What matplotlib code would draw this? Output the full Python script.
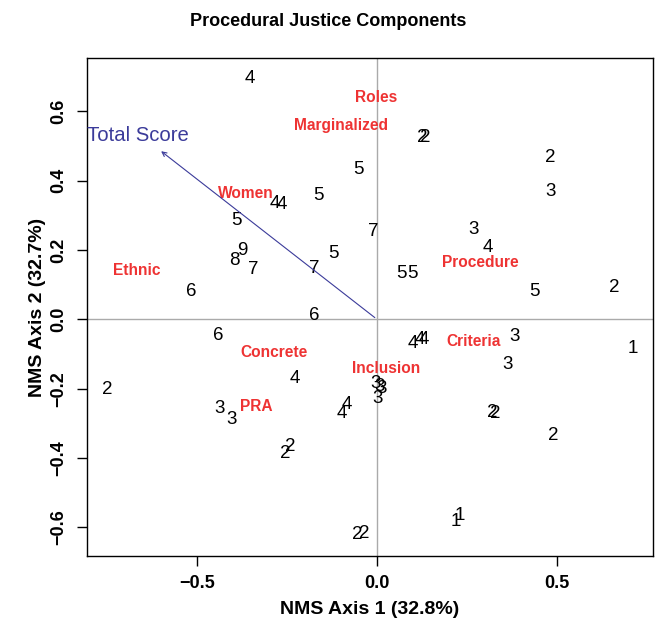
import numpy as np
import matplotlib.pyplot as plt

plt.rcParams['font.family'] = ['Liberation Sans', 'DejaVu Sans']

# site scores (label = group number)
site_lab = ['4', '4', '4', '5', '5', '7', '5', '9', '8', '7', '7', '5', '6', '6',
            '2', '2', '2', '3', '3', '4', '5', '5', '5', '2',
            '6', '4', '2', '3', '3', '4', '4', '2', '2', '2', '2',
            '4', '4', '4', '3', '1', '3', '3', '3', '3', '3', '2', '2', '2', '1', '1']
site_x = [-0.353, -0.283, -0.265, -0.163, -0.052, -0.010, -0.392, -0.373, -0.397, -0.344, -0.174, -0.121, -0.515, -0.174,
          0.126, 0.133, 0.482, 0.481, 0.268, 0.307, 0.069, 0.099, 0.437, 0.658,
          -0.441, -0.228, -0.749, -0.438, -0.404, -0.084, -0.098, -0.240, -0.254, -0.055, -0.036,
          0.099, 0.119, 0.129, 0.383, 0.710, 0.362, -0.004, 0.006, 0.013, 0.002, 0.319, 0.328, 0.490, 0.231, 0.219]
site_y = [0.696, 0.335, 0.331, 0.357, 0.433, 0.253, 0.284, 0.200, 0.171, 0.145, 0.147, 0.190, 0.080, 0.012,
          0.525, 0.525, 0.467, 0.368, 0.258, 0.207, 0.131, 0.131, 0.080, 0.092,
          -0.048, -0.170, -0.202, -0.257, -0.290, -0.247, -0.273, -0.367, -0.387, -0.622, -0.619,
          -0.069, -0.057, -0.057, -0.050, -0.084, -0.129, -0.185, -0.194, -0.199, -0.228, -0.269, -0.273, -0.334, -0.565, -0.584]

# species / component scores
comp_lab = ['Roles', 'Marginalized', 'Women', 'Ethnic', 'Procedure', 'Criteria',
            'Concrete', 'Inclusion', 'PRA']
comp_x = [-0.003, -0.100, -0.365, -0.668, 0.286, 0.268, -0.286, 0.025, -0.336]
comp_y = [0.640, 0.560, 0.363, 0.140, 0.163, -0.065, -0.096, -0.141, -0.252]

# joint plot vector
vec_x, vec_y = -0.606, 0.490
vec_lab = 'Total Score'
vec_lab_x, vec_lab_y = -0.664, 0.531

fig = plt.figure(figsize=(6.57, 6.26), dpi=100)
ax = fig.add_axes([0.1324, 0.1118, 0.8615, 0.7955])

ax.axhline(0, color='#aaaaaa', lw=1, zorder=0)
ax.axvline(0, color='#aaaaaa', lw=1, zorder=0)

for s, x, y in zip(site_lab, site_x, site_y):
    ax.text(x, y, s, ha='center', va='center', fontsize=13.5, color='black')

for s, x, y in zip(comp_lab, comp_x, comp_y):
    ax.text(x, y, s, ha='center', va='center', fontsize=11.2, fontweight='bold', color='#ee3333')

ax.annotate('', xy=(vec_x, vec_y), xytext=(0, 0),
            arrowprops=dict(arrowstyle='->', color='#3b3b9a', lw=0.8, mutation_scale=8))
ax.text(vec_lab_x, vec_lab_y, vec_lab, ha='center', va='center', fontsize=14.6, color='#3b3b9a')

ax.set_xlim(-0.806, 0.767)
ax.set_ylim(-0.683, 0.754)
ax.set_xticks([-0.5, 0.0, 0.5])
ax.set_yticks([-0.6, -0.4, -0.2, 0.0, 0.2, 0.4, 0.6])
ax.set_xticklabels(['\u22120.5', '0.0', '0.5'], fontsize=13, fontweight='bold')
ax.set_yticklabels(['\u22120.6', '\u22120.4', '\u22120.2', '0.0', '0.2', '0.4', '0.6'],
                   fontsize=13, fontweight='bold', rotation=90, va='center')
ax.tick_params(direction='out', length=7, width=1, pad=7)
for sp in ax.spines.values():
    sp.set_linewidth(1)

ax.set_xlabel('NMS Axis 1 (32.8%)', fontsize=14, fontweight='bold', labelpad=6)
ax.set_ylabel('NMS Axis 2 (32.7%)', fontsize=14, fontweight='bold', labelpad=3)
fig.text(0.5, 1 - 22 / 626, 'Procedural Justice Components', ha='center', va='center',
         fontsize=13, fontweight='bold')

fig.savefig('out.png', dpi=100)
